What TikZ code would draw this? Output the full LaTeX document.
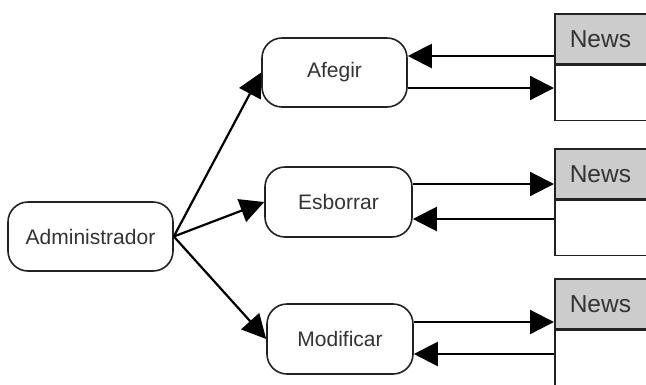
\documentclass[tikz,border=0pt]{standalone}
\usepackage{fontspec}
\setmainfont{Liberation Sans}
\usetikzlibrary{arrows.meta}
\definecolor{txt}{HTML}{333333}
\definecolor{hdr}{HTML}{CCCCCC}
\definecolor{edge}{HTML}{222222}
\begin{document}
\begin{tikzpicture}[x=1pt,y=-1pt,
  proc/.style={draw=edge,line width=1.6pt,rounded corners=20pt,fill=white,
    text=txt,font=\fontsize{21}{25}\selectfont,inner sep=0pt},
  tblhead/.style={draw=edge,line width=1.5pt,fill=hdr,anchor=north west,
    minimum height=50pt,text width=90pt,inner xsep=15pt,inner ysep=0pt,align=left,
    text=txt,font=\fontsize{24.5}{28}\selectfont},
  tblbody/.style={draw=edge,line width=1.5pt,fill=white,anchor=north west,
    minimum width=120pt,minimum height=55pt,inner sep=0pt},
  arr/.style={line width=2.2pt,draw=black,-{Triangle[length=24pt,width=24pt]}}]
\clip (0,0) rectangle (646,384);
\fill[white] (0,0) rectangle (646,384);

\node[proc,minimum width=165pt,minimum height=69pt] (adm) at (90.5,236.5) {Administrador};
\node[proc,minimum width=145pt,minimum height=69pt] (afe) at (334.5,72.5) {Afegir};
\node[proc,minimum width=147pt,minimum height=70pt] (esb) at (338.5,202) {Esborrar};
\node[proc,minimum width=146pt,minimum height=70pt] (mod) at (340,339) {Modificar};

\node[tblhead] (h1) at (554,13) {News};
\node[tblbody] (b1) at (h1.south west) {};
\node[tblhead] (h2) at (554,148) {News};
\node[tblbody] (b2) at (h2.south west) {};
\node[tblhead] (h3) at (554,278) {News};
\node[tblbody] (b3) at (h3.south west) {};

\draw[arr] (adm.east) -- (afe.west);
\draw[arr] (adm.east) -- (esb.west);
\draw[arr] (adm.east) -- (mod.west);

\draw[arr] (h1.west |- 0,56) -- (afe.east |- 0,56);
\draw[arr] (afe.east |- 0,88) -- (b1.west |- 0,88);
\draw[arr] (esb.east |- 0,184) -- (h2.west |- 0,184);
\draw[arr] (b2.west |- 0,219) -- (esb.east |- 0,219);
\draw[arr] (mod.east |- 0,322) -- (h3.west |- 0,322);
\draw[arr] (b3.west |- 0,354) -- (mod.east |- 0,354);
\end{tikzpicture}
\end{document}
